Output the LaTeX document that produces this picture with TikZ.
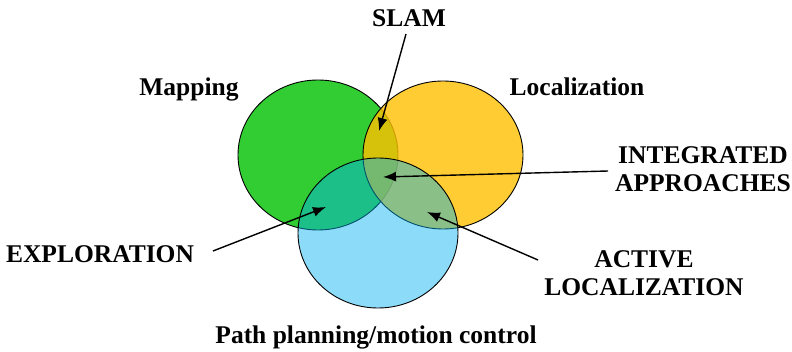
\documentclass[tikz,border=0pt]{standalone}
\usepackage{fontspec}
\setmainfont{Liberation Serif}
\usetikzlibrary{arrows.meta}
\definecolor{mapgreen}{RGB}{50,205,50}
\definecolor{locgold}{RGB}{255,192,0}
\definecolor{pathcyan}{RGB}{0,176,240}
\tikzset{
  lbl/.style={inner sep=0pt, font=\fontsize{25.5}{28}\selectfont\bfseries, align=center},
  setcircle/.style={draw=black, line width=0.9pt},
  pointer/.style={draw=black, line width=1.4pt, -{Latex[length=13pt,width=10pt]}}
}
\begin{document}
\begin{tikzpicture}[x=1pt,y=-1pt]
  \useasboundingbox (0,0) rectangle (792,352);

  % three overlapping sets
  \filldraw[setcircle, fill=mapgreen] (318,155) ellipse [x radius=80, y radius=75];
  \filldraw[setcircle, fill=locgold, fill opacity=0.8] (443,155) ellipse [x radius=80, y radius=74];
  \filldraw[setcircle, fill=pathcyan, fill opacity=0.45] (378,233) ellipse [x radius=80, y radius=75];

  % set labels
  \node[lbl, anchor=base] (map) at (189,96) {Mapping};
  \node[lbl, anchor=base] (loc) at (577,96) {Localization};
  \node[lbl, anchor=base] (path) at (376,344) {Path planning/motion control};

  % intersection labels
  \node[lbl, anchor=base] (slam) at (409,27) {SLAM};
  \node[lbl] (integ) at (703,169) {INTEGRATED\\APPROACHES};
  \node[lbl, anchor=base] (explo) at (100,263) {EXPLORATION};
  \node[lbl] (active) at (644,273) {ACTIVE\\LOCALIZATION};

  % targets inside the overlap regions
  \coordinate (slamT) at (379,131);
  \coordinate (integT) at (383,177);
  \coordinate (exploT) at (326,207);
  \coordinate (activeT) at (427,212);

  % pointer start points beside the labels
  \coordinate (slamS) at (406,34);
  \coordinate (integS) at (608,171);
  \coordinate (exploS) at (213,251);
  \coordinate (activeS) at (538,260);

  \draw[pointer] (slamS) -- (slamT);
  \draw[pointer] (integS) -- (integT);
  \draw[pointer] (exploS) -- (exploT);
  \draw[pointer] (activeS) -- (activeT);
\end{tikzpicture}
\end{document}
